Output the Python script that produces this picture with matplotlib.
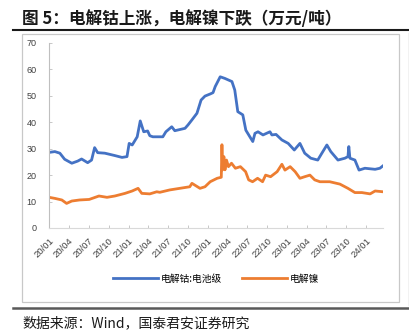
import numpy as np
import pandas as pd
import matplotlib
matplotlib.use("Agg")
import matplotlib.pyplot as plt
from matplotlib.lines import Line2D

plt.rcParams['font.family'] = ['Noto Sans CJK SC', 'DejaVu Sans']

# 电解钴:电池级 (万元/吨)
cobalt_dates = ["2020-01-02", "2020-01-28", "2020-02-20", "2020-03-13", "2020-04-15",
                "2020-05-12", "2020-05-30", "2020-06-27", "2020-07-15", "2020-07-29",
                "2020-08-12", "2020-09-14", "2020-10-30", "2020-12-02", "2020-12-25",
                "2021-01-04", "2021-01-18", "2021-02-10", "2021-02-24", "2021-03-12",
                "2021-03-30", "2021-04-09", "2021-04-23", "2021-06-08", "2021-06-22",
                "2021-07-19", "2021-08-02", "2021-09-18", "2021-10-02", "2021-10-20",
                "2021-11-12", "2021-12-01", "2021-12-19", "2022-01-12", "2022-01-25",
                "2022-02-04", "2022-02-27", "2022-03-20", "2022-04-22", "2022-05-05",
                "2022-05-19", "2022-06-11", "2022-06-25", "2022-07-18", "2022-07-27",
                "2022-08-06", "2022-08-20", "2022-09-12", "2022-10-14", "2022-10-23",
                "2022-11-11", "2022-12-08", "2023-01-06", "2023-02-03", "2023-03-01",
                "2023-03-23", "2023-04-20", "2023-05-22", "2023-06-10", "2023-07-03",
                "2023-07-21", "2023-08-23", "2023-09-24", "2023-10-08", "2023-10-12",
                "2023-10-17", "2023-11-09", "2023-11-28", "2023-12-25", "2024-02-10",
                "2024-03-03", "2024-03-17"]
cobalt_vals = [28.6, 28.9, 28.3, 26.0, 24.5,
               25.3, 26.1, 24.7, 25.7, 30.4,
               28.5, 28.3, 27.4, 26.7, 27.0,
               32.0, 31.4, 34.5, 40.5, 36.4,
               36.7, 34.9, 34.5, 34.5, 36.4,
               38.3, 36.8, 37.7, 39.0, 40.9,
               43.4, 48.4, 49.9, 50.7, 51.2,
               53.5, 57.2, 56.6, 55.4, 52.2,
               44.0, 42.8, 37.0, 33.9, 32.7,
               35.8, 36.4, 35.2, 36.4, 35.2,
               35.4, 33.3, 32.0, 29.5, 32.0,
               28.3, 26.4, 25.7, 28.3, 31.4,
               28.9, 25.7, 26.4, 27.0, 30.8,
               26.4, 25.7, 21.9, 22.6, 22.2,
               22.6, 23.5]

# 电解镍 (万元/吨)
nickel_dates = ["2020-01-02", "2020-01-28", "2020-02-29", "2020-03-22", "2020-04-15",
                "2020-05-21", "2020-07-04", "2020-08-18", "2020-09-24", "2020-10-30",
                "2020-12-16", "2021-01-18", "2021-02-14", "2021-03-03", "2021-04-09",
                "2021-05-11", "2021-05-25", "2021-07-10", "2021-08-25", "2021-10-10",
                "2021-10-20", "2021-11-26", "2021-12-19", "2022-01-12", "2022-02-13",
                "2022-03-04", "2022-03-07", "2022-03-10", "2022-03-16", "2022-03-21",
                "2022-03-28", "2022-04-06", "2022-04-20", "2022-05-08", "2022-05-31",
                "2022-06-24", "2022-07-08", "2022-07-26", "2022-08-18", "2022-09-10",
                "2022-09-24", "2022-10-17", "2022-11-16", "2022-12-08", "2022-12-22",
                "2023-01-15", "2023-02-07", "2023-03-01", "2023-03-23", "2023-04-16",
                "2023-05-08", "2023-06-01", "2023-07-16", "2023-09-01", "2023-10-08",
                "2023-11-09", "2023-12-11", "2024-01-18", "2024-02-10", "2024-03-17"]
nickel_vals = [11.6, 11.2, 10.6, 9.3, 10.2,
               10.6, 10.8, 12.1, 11.6, 12.1,
               13.1, 14.0, 15.0, 13.1, 12.9,
               13.7, 13.5, 14.4, 15.0, 15.6,
               16.9, 15.0, 15.6, 17.5, 18.8,
               19.2, 31.5, 22.0, 27.0, 22.0,
               25.7, 23.2, 24.5, 22.6, 23.2,
               21.3, 18.2, 17.5, 18.8, 17.5,
               20.0, 19.4, 21.3, 24.1, 21.9,
               23.2, 21.3, 18.8, 19.4, 20.0,
               18.2, 17.5, 17.5, 16.6, 15.0,
               13.4, 13.4, 12.9, 14.0, 13.7]

tick_dates = pd.date_range("2020-01-01", "2024-01-01", freq="QS")

fig = plt.figure(figsize=(4.10, 3.34), dpi=100)

# frame decorations
fig.add_artist(Line2D([0.032, 1.0], [0.910, 0.910], color="#1a1a1a", lw=1.5))
fig.add_artist(Line2D([0.032, 1.0], [0.078, 0.078], color="#595959", lw=1.8))
fig.add_artist(plt.Rectangle((0.054, 0.096), 0.919, 0.802, fill=False,
                             edgecolor="#c8c8c8", lw=0.9))
fig.add_artist(Line2D([0.9975, 0.9975], [0.087, 0.902], color="#bfbfbf", lw=1.0))

fig.text(0.054, 0.944, "图 5：电解钴上涨，电解镍下跌（万元/吨）", fontsize=12,
         fontweight="bold", color="#1a1a1a", va="center", ha="left")
fig.text(0.054, 0.033, "数据来源：Wind，国泰君安证券研究", fontsize=10,
         color="#1a1a1a", va="center", ha="left")

ax = fig.add_axes([0.1195, 0.3174, 0.815, 0.554])
ax.plot(pd.to_datetime(cobalt_dates), cobalt_vals, color="#4472C4", lw=2.0,
        label="电解钴:电池级")
ax.plot(pd.to_datetime(nickel_dates), nickel_vals, color="#ED7D31", lw=2.0,
        label="电解镍")

ax.set_ylim(0, 70)
ax.set_yticks(range(0, 71, 10))
ax.set_xlim(pd.Timestamp("2020-01-01"), pd.Timestamp("2024-03-18"))
ax.set_xticks(tick_dates)
ax.set_xticklabels([d.strftime("%y/%m") for d in tick_dates], rotation=45,
                   ha="right", va="top", rotation_mode="anchor")

for s in ["top", "right"]:
    ax.spines[s].set_visible(False)
ax.spines["left"].set_color("#bfbfbf")
ax.spines["bottom"].set_color("#d9d9d9")
ax.spines["left"].set_linewidth(0.8)
ax.spines["bottom"].set_linewidth(0.8)
ax.tick_params(axis="both", direction="in", length=2, width=0.6, color="#bfbfbf",
               labelcolor="#404040")
ax.tick_params(axis="y", pad=9, labelsize=6.5)
ax.tick_params(axis="x", pad=6, labelsize=6.8)
for lab in ax.get_xticklabels() + ax.get_yticklabels():
    lab.set_family(["Liberation Sans", "DejaVu Sans"])

ax.legend(loc="center", bbox_to_anchor=(0.5, -0.275), ncol=2, frameon=False,
          fontsize=7, handlelength=4.6, handletextpad=0.3, columnspacing=2.0)

fig.savefig("out.png", dpi=100)
